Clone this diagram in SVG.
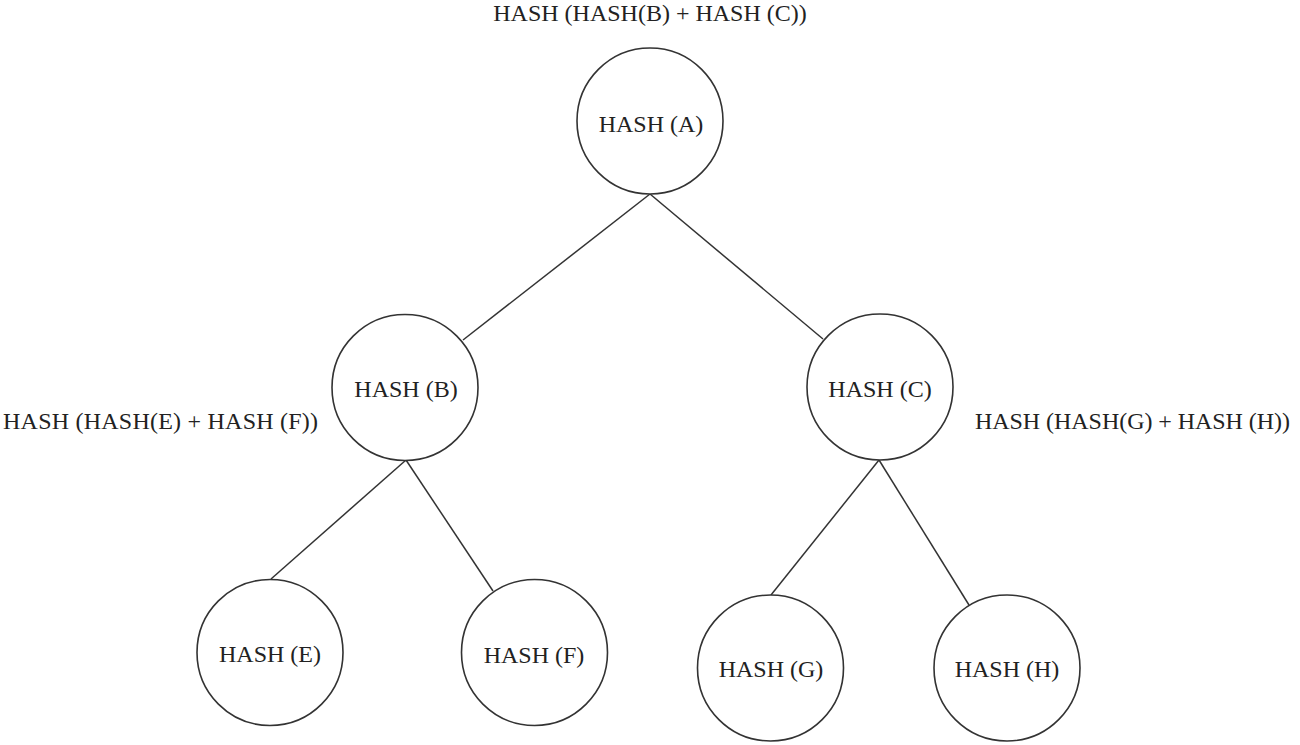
<svg xmlns="http://www.w3.org/2000/svg" width="1300" height="745" viewBox="0 0 1300 745">
<style>
.n{fill:#fff;stroke:#333;stroke-width:1.6}
.e{stroke:#333;stroke-width:1.5;fill:none}
text{font-family:"Liberation Serif","Times New Roman",serif;font-size:24px;fill:#222}
.c{text-anchor:middle}
</style>
<rect width="1300" height="745" fill="#fff"/>
<g id="connectors">
<line class="e" x1="650" y1="194" x2="463" y2="340"/>
<line class="e" x1="650" y1="194" x2="823" y2="339"/>
<line class="e" x1="406" y1="460" x2="271" y2="579"/>
<line class="e" x1="406" y1="460" x2="493" y2="591"/>
<line class="e" x1="879" y1="460" x2="771" y2="595"/>
<line class="e" x1="879" y1="460" x2="969" y2="605"/>
</g>
<g id="labels">
<text class="c" x="650" y="21">HASH (HASH(B) + HASH (C))</text>
<text x="3" y="429" textLength="315">HASH (HASH(E) + HASH (F))</text>
<text x="975" y="429" textLength="315">HASH (HASH(G) + HASH (H))</text>
</g>
<g id="nodeA"><circle class="n" cx="650" cy="121" r="73"/><text class="c" x="651" y="132">HASH (A)</text></g>
<g id="nodeB"><circle class="n" cx="405" cy="387.5" r="73"/><text class="c" x="406" y="397">HASH (B)</text></g>
<g id="nodeC"><circle class="n" cx="880" cy="387" r="73"/><text class="c" x="880" y="397">HASH (C)</text></g>
<g id="nodeE"><circle class="n" cx="270" cy="652.5" r="73"/><text class="c" x="270" y="662">HASH (E)</text></g>
<g id="nodeF"><circle class="n" cx="534.5" cy="652.5" r="73"/><text class="c" x="534" y="663">HASH (F)</text></g>
<g id="nodeG"><circle class="n" cx="770.5" cy="668" r="73"/><text class="c" x="771" y="677">HASH (G)</text></g>
<g id="nodeH"><circle class="n" cx="1007" cy="668" r="73"/><text class="c" x="1007" y="677">HASH (H)</text></g>
</svg>
